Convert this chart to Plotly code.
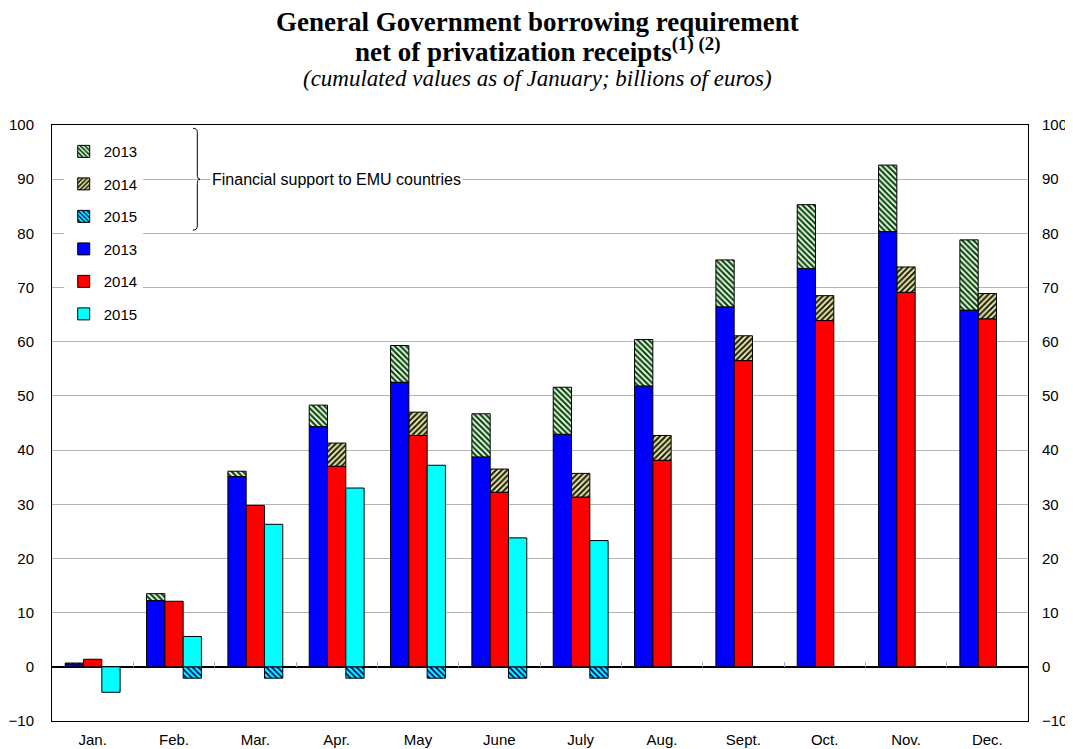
import plotly.graph_objects as go

months = ["Jan.", "Feb.", "Mar.", "Apr.", "May", "June", "July", "Aug.", "Sept.", "Oct.", "Nov.", "Dec."]
tick_values = [-10, 0, 10, 20, 30, 40, 50, 60, 70, 80, 90, 100]

# borrowing requirement excluding financial support (billions of euros)
req_2013 = [0.5, 12.2, 35.1, 44.3, 52.5, 38.7, 42.9, 51.8, 66.4, 73.5, 80.3, 65.8]
req_2014 = [1.4, 12.1, 29.8, 37.0, 42.7, 32.2, 31.3, 38.1, 56.5, 63.9, 69.1, 64.2]
req_2015 = [-4.7, 5.6, 26.3, 33.0, 37.2, 23.8, 23.3, None, None, None, None, None]

# financial support to EMU countries
sup_2013 = [0.2, 1.3, 1.0, 4.0, 6.8, 8.0, 8.7, 8.6, 8.7, 11.8, 12.3, 13.0]
sup_2014 = [None, None, None, 4.3, 4.3, 4.3, 4.4, 4.6, 4.6, 4.6, 4.7, 4.7]
sup_2015 = [None, -2.1, -2.1, -2.1, -2.1, -2.1, -2.1, None, None, None, None, None]

x = list(range(len(months)))
SANS = "Liberation Sans, Arial, sans-serif"
SERIF = "Liberation Serif, Times New Roman, serif"

fig = go.Figure()

def hatched(name, y, base, og, bg, fg, shape, grp):
    fig.add_trace(go.Bar(
        x=x, y=y, base=base, name=name, offsetgroup=og, legendgroup=grp,
        marker=dict(color=bg, line=dict(color="black", width=1),
                    pattern=dict(shape=shape, bgcolor=bg, fgcolor=fg, fgopacity=1,
                                 size=4, solidity=0.45)),
    ))

hatched("2013", sup_2013, req_2013, "a", "#0b4f0b", "#ffffff", "\\", "g1")
hatched("2014", sup_2014, req_2014, "b", "#2a2a00", "#f4f4d0", "/", "g2")
hatched("2015", sup_2015, [0] * 12, "c", "#00ffff", "#000070", "\\", "g3")

def solid(name, y, og, color, grp):
    fig.add_trace(go.Bar(
        x=x, y=y, name=name, offsetgroup=og, legendgroup=grp,
        marker=dict(color=color, line=dict(color="black", width=1)),
    ))

solid("2013", req_2013, "a", "#0000ff", "g4")
solid("2014", req_2014, "b", "#ff0000", "g5")
solid("2015", req_2015, "c", "#00ffff", "g6")

# helper axes: category boundary ticks on the zero line, and right value axis
fig.add_trace(go.Scatter(x=[], y=[], xaxis="x2", yaxis="y", showlegend=False, hoverinfo="skip"))
fig.add_trace(go.Scatter(x=[], y=[], xaxis="x", yaxis="y2", showlegend=False, hoverinfo="skip"))

# the page body adds an 8px offset at top/left, so the figure is 8px smaller than the window
fig.update_layout(
    width=1065, height=741,
    margin=dict(l=44, r=45, t=117, b=28),
    paper_bgcolor="white", plot_bgcolor="white",
    barmode="group", bargap=0.325, bargroupgap=0,
    font=dict(family=SANS, size=15, color="black"),
    showlegend=True,
    legend=dict(x=0.012, y=0.983, xanchor="left", yanchor="top",
                bgcolor="white", borderwidth=0, font=dict(size=15),
                traceorder="grouped", tracegroupgap=10, itemwidth=30),
    xaxis=dict(range=[-0.5, 11.5], tickmode="array", tickvals=x, ticktext=months,
               showgrid=False, zeroline=False, showline=True, linecolor="black",
               linewidth=1, mirror=True, ticks="", ticklabelstandoff=5,
               tickfont=dict(size=15), automargin=False),
    xaxis2=dict(overlaying="x", anchor="free", position=10 / 110, side="bottom",
                range=[-0.5, 11.5], tickmode="array",
                tickvals=[i + 0.5 for i in range(11)], ticks="inside", ticklen=5,
                tickcolor="#b0b0b0", showticklabels=False, showgrid=False,
                zeroline=False, showline=False),
    yaxis=dict(range=[-10, 100], tickmode="array", tickvals=tick_values,
               showgrid=True, gridcolor="#b4b4b4", gridwidth=1,
               zeroline=True, zerolinecolor="black", zerolinewidth=1.5,
               showline=True, linecolor="black", linewidth=1, mirror=True,
               ticks="", ticklabelstandoff=14, tickfont=dict(size=15), automargin=False),
    yaxis2=dict(overlaying="y", side="right", range=[-10, 100], tickmode="array",
                tickvals=tick_values, showgrid=False, zeroline=False, showline=False,
                ticks="", ticklabelstandoff=13, tickfont=dict(size=15), automargin=False),
)

# brace for financial support legend entries
bx, bl, bt = 0.1489, 0.1445, 0.1516
path = (f"M {bl},99.4 Q {bx},99.4 {bx},98.6 L {bx},90.8 Q {bx},90 {bt},90 "
        f"Q {bx},90 {bx},89.2 L {bx},81.4 Q {bx},80.6 {bl},80.6")
fig.add_shape(type="path", path=path, xref="paper", yref="y",
              line=dict(color="black", width=1))

fig.add_annotation(x=0.162, y=90, xref="paper", yref="y", xanchor="left", yanchor="middle",
                   text="Financial support to EMU countries", showarrow=False,
                   bgcolor="white", borderpad=1, font=dict(size=16, family=SANS))

# titles
fig.add_annotation(x=0.497, y=(721 - 22) / 596, xref="paper", yref="paper", showarrow=False,
                   text="<b>General Government borrowing requirement</b>",
                   font=dict(family=SERIF, size=27), yanchor="middle")
fig.add_annotation(x=0.497, y=(721 - 50) / 596, xref="paper", yref="paper", showarrow=False,
                   text="<b>net of privatization receipts<sup>(1) (2)</sup></b>",
                   font=dict(family=SERIF, size=27), yanchor="middle")
fig.add_annotation(x=0.497, y=(721 - 79) / 596, xref="paper", yref="paper", showarrow=False,
                   text="<i>(cumulated values as of January; billions of euros)</i>",
                   font=dict(family=SERIF, size=23), yanchor="middle")

fig.write_html("out.html")
